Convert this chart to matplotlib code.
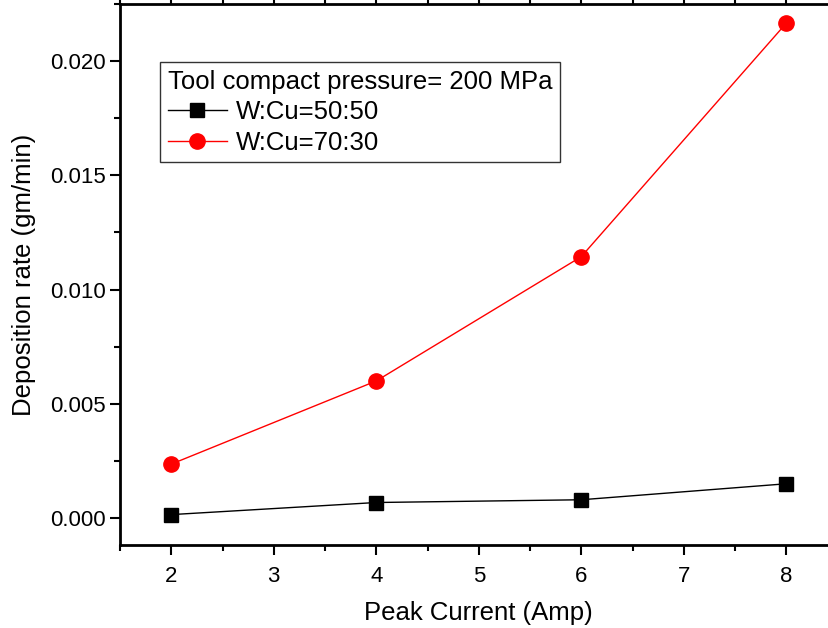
import matplotlib
matplotlib.use("Agg")
import matplotlib.pyplot as plt
from matplotlib.ticker import MultipleLocator

plt.rcParams['font.family'] = ['Liberation Sans', 'DejaVu Sans']

current = [2, 4, 6, 8]
wcu_50_50 = [0.00015, 0.00068, 0.00080, 0.00150]
wcu_70_30 = [0.00236, 0.00600, 0.01144, 0.02166]
labels = ["W:Cu=50:50", "W:Cu=70:30"]
legend_title = "Tool compact pressure= 200 MPa"

fig = plt.figure(figsize=(8.29, 6.28), dpi=100)
ax_w = 837.5 - 120
ax = fig.add_axes([120/829, 1-545/628, ax_w/829, (545-4)/628])

ax.plot(current, wcu_50_50, color='black', lw=1, marker='s', ms=10, label=labels[0])
ax.plot(current, wcu_70_30, color='red', lw=1, marker='o', ms=11, label=labels[1])

ax.set_xlim(1.5, 8.5)
ax.set_ylim(-0.00118, 0.0225)
ax.xaxis.set_major_locator(MultipleLocator(1))
ax.xaxis.set_minor_locator(MultipleLocator(0.5))
ax.yaxis.set_major_locator(MultipleLocator(0.005))
ax.yaxis.set_minor_locator(MultipleLocator(0.0025))
ax.yaxis.set_major_formatter(matplotlib.ticker.FormatStrFormatter('%.3f'))

for s in ax.spines.values():
    s.set_linewidth(2)
ax.spines['right'].set_visible(False)
ax.tick_params(which='major', direction='out', length=7, width=1.5, labelsize=16)
ax.tick_params(which='minor', direction='out', length=4, width=1.5)
ax.tick_params(axis='x', which='both', top=True)
ax.tick_params(axis='x', which='major', pad=8)

ax.set_xlabel("Peak Current (Amp)", fontsize=18.5, labelpad=10)
ax.set_ylabel("Deposition rate (gm/min)", fontsize=18.5, labelpad=10)

leg = ax.legend(title=legend_title, loc='upper left', bbox_to_anchor=(40/ax_w, 1-58/541),
                fontsize=18.5, title_fontsize=18.5, frameon=True, fancybox=False,
                edgecolor='black', borderpad=0.3, handlelength=2.3, labelspacing=0.25,
                handletextpad=0.35, borderaxespad=0)
leg._legend_box.align = "left"
leg.get_frame().set_linewidth(1)

fig.savefig("out.png", dpi=100)
